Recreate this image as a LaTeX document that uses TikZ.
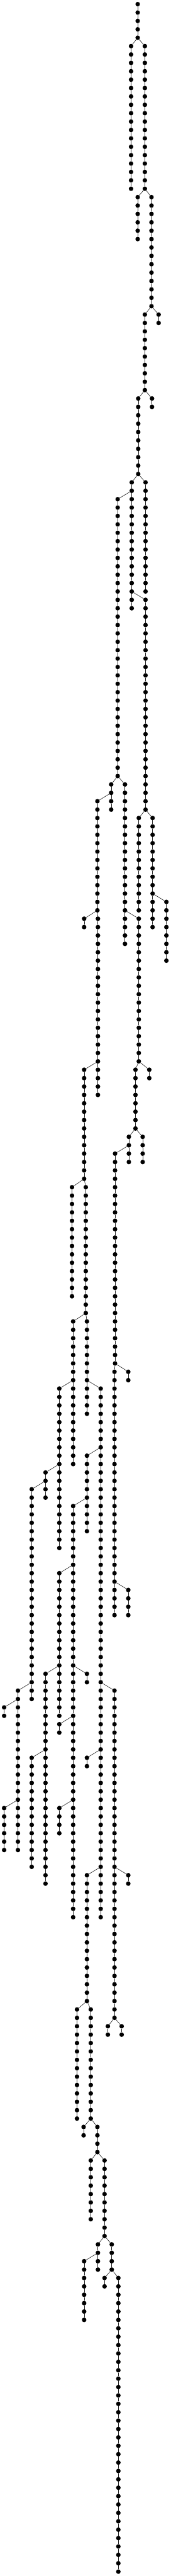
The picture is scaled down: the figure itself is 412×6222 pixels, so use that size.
\documentclass[tikz,border=0pt]{standalone}
\newcommand\ychain[4]{%
  \foreach \r in {#3,...,#4}{%
    \node[dot] (#1-\r) at ({#2/3},{10+20.266*\r}) {};
    \ifnum\r>#3\relax
      \pgfmathtruncatemacro\p{\r-1}%
      \draw[edge] (#1-\p) -- (#1-\r);
    \fi
  }%
}
\newcommand\bchain[5]{\ychain{#1}{#2}{#3}{#4}\draw[edge] (#5) -- (#1-#3);}
\begin{document}
\begin{tikzpicture}[x=1pt,y=-1pt,
  dot/.style={circle,fill=black,inner sep=0pt,minimum size=11pt},
  edge/.style={draw=black!85,line width=1pt}]
\useasboundingbox (0,0) rectangle (412,6222);
\ychain{A}{998}{0}{4}
\bchain{B}{950}{5}{22}{A-4}
\bchain{C}{1050}{5}{22}{A-4}
\bchain{D}{998}{23}{28}{C-22}
\bchain{E}{1098}{23}{36}{C-22}
\bchain{F}{1150}{37}{38}{E-36}
\bchain{G}{1050}{37}{46}{E-36}
\bchain{H}{1102}{47}{48}{G-46}
\bchain{I}{1002}{47}{56}{G-46}
\bchain{J}{955}{57}{72}{I-56}
\bchain{K}{1055}{57}{70}{I-56}
\bchain{L}{853}{59}{92}{J-58}
\bchain{M}{1055}{71}{96}{J-70}
\bchain{N}{806}{93}{96}{L-92}
\bchain{O}{906}{93}{112}{L-92}
\bchain{P}{706}{95}{108}{N-94}
\bchain{Q}{1006}{97}{108}{M-96}
\bchain{R}{1106}{97}{110}{M-96}
\bchain{S}{1206}{107}{114}{R-106}
\bchain{T}{610}{109}{110}{P-108}
\bchain{U}{710}{109}{126}{P-108}
\bchain{V}{1006}{109}{126}{O-108}
\bchain{W}{610}{127}{140}{U-126}
\bchain{X}{710}{127}{130}{U-126}
\bchain{Y}{982}{127}{134}{V-126}
\bchain{Z}{1082}{127}{128}{V-126}
\bchain{AA}{934}{135}{138}{Y-134}
\bchain{AB}{1034}{135}{138}{Y-134}
\bchain{AC}{834}{137}{162}{AA-136}
\bchain{AD}{522}{141}{154}{W-140}
\bchain{AE}{622}{141}{156}{W-140}
\bchain{AF}{530}{157}{174}{AE-156}
\bchain{AG}{630}{157}{168}{AE-156}
\bchain{AH}{930}{163}{164}{AC-162}
\bchain{AI}{830}{163}{192}{AC-162}
\bchain{AJ}{430}{165}{184}{AF-164}
\bchain{AK}{730}{165}{228}{AG-164}
\bchain{AL}{630}{173}{182}{AK-172}
\bchain{AM}{330}{175}{178}{AJ-174}
\bchain{AN}{230}{177}{202}{AM-176}
\bchain{AO}{530}{179}{228}{AL-178}
\bchain{AP}{430}{187}{204}{AO-186}
\bchain{AQ}{930}{189}{192}{AI-188}
\bchain{AR}{630}{199}{200}{AO-198}
\bchain{AS}{330}{199}{224}{AP-198}
\bchain{AT}{130}{201}{220}{AN-200}
\bchain{AU}{830}{201}{240}{AK-200}
\bchain{AV}{30}{203}{204}{AT-202}
\bchain{AW}{430}{205}{206}{AO-204}
\bchain{AX}{230}{209}{222}{AS-208}
\bchain{AY}{630}{209}{210}{AK-208}
\bchain{AZ}{30}{215}{220}{AT-214}
\bchain{BA}{430}{215}{218}{AO-214}
\bchain{BB}{630}{223}{238}{AK-222}
\bchain{BC}{930}{223}{224}{AU-222}
\bchain{BD}{558}{239}{252}{BB-238}
\bchain{BE}{658}{239}{252}{BB-238}
\bchain{BF}{782}{241}{242}{AU-240}
\bchain{BG}{882}{241}{242}{AU-240}
\bchain{BH}{606}{253}{254}{BE-252}
\bchain{BI}{706}{253}{256}{BE-252}
\bchain{BJ}{658}{257}{264}{BI-256}
\bchain{BK}{758}{257}{266}{BI-256}
\bchain{BL}{710}{267}{270}{BK-266}
\bchain{BM}{810}{267}{270}{BK-266}
\bchain{BN}{610}{269}{276}{BL-268}
\bchain{BO}{758}{271}{272}{BM-270}
\bchain{BP}{858}{271}{306}{BM-270}
\end{tikzpicture}
\end{document}
